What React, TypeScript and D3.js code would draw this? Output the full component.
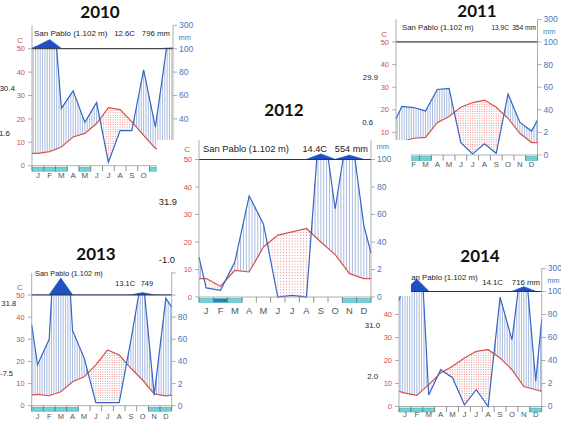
import * as d3 from "d3";

// Walter–Lieth style climate diagrams, San Pablo (1.102 m), 2010–2014.

const MONTHS = ["J", "F", "M", "A", "M", "J", "J", "A", "S", "O", "N", "D"];
// x positions in month units: left edge, the 12 month centres, right edge
const STEPS = [0, 0.5, 1.5, 2.5, 3.5, 4.5, 5.5, 6.5, 7.5, 8.5, 9.5, 10.5, 11.5, 12];
const TEMP_TICKS = [0, 10, 20, 30, 40, 50];
const PREC_TICKS = ["0", "2", "40", "60", "80", "100"];
const SITE = "San Pablo (1.102 m)";

// mean monthly temperature (°C) and rainfall (mm), Jan..Dec; edge values at the plot borders
const TEMP_2010 = [5.3, 6.0, 8.0, 12.3, 13.8, 18.0, 24.8, 24.0, 18.7, 13.0, 7.4, 6.4];
const TEMP_EDGE_2010 = [5.3, 6.0];
const PREC_2010 = [125, 176, 49, 64, 37, 54, 3, 30, 30, 82, 33, 104];
const PREC_EDGE_2010 = [104, 106];
const FROST_2010 = [1, 1, 1, 0, 1, 0, 0, 0, 0, 0, 1, 0];
const STATS_2010 = ["12.6C", "796 mm"];
const EXTREMES_2010 = ["30.4", "1.6"];

const TEMP_2011 = [5.9, 7.4, 7.8, 14.3, 17.0, 21.1, 23.2, 24.3, 21.1, 16.2, 9.6, 5.5];
const TEMP_EDGE_2011 = [5.5, 5.5];
const PREC_2011 = [43, 42, 39, 58, 59, 11, 1, 10, 1.5, 54, 29, 21];
const PREC_EDGE_2011 = [32, 31];
const FROST_2011 = [1, 1, 1, 0, 0, 0, 0, 0, 0, 0, 0, 1];
const STATS_2011 = ["13.9C", "354 mm"];
const EXTREMES_2011 = ["29.9", "0.6"];

const TEMP_2012 = [6.7, 3.9, 9.7, 9.1, 18.2, 22.5, 23.7, 24.9, 20.0, 15.4, 8.5, 6.7];
const TEMP_EDGE_2012 = [6.7, 6.7];
const PREC_2012 = [6.6, 4.9, 25.5, 73.5, 53, 0, 1.2, 0, 140, 64, 130, 52];
const PREC_EDGE_2012 = [29, 32];
const FROST_2012 = [1, 2, 1, 0, 0, 0, 0, 0, 0, 0, 1, 1];
const STATS_2012 = ["14.4C", "554 mm"];
const EXTREMES_2012 = ["31.9", "-1.0"];

const TEMP_2013 = [5.1, 4.5, 6.3, 10.8, 13.1, 18.4, 25.2, 22.9, 16.9, 11.6, 5.3, 4.4];
const TEMP_EDGE_2013 = [4.8, 4.8];
const PREC_2013 = [37, 60, 250, 68, 43, 2.7, 2.7, 2.7, 59, 120, 9.6, 97];
const PREC_EDGE_2013 = [73, 89];
const FROST_2013 = [1, 1, 1, 1, 0, 0, 0, 0, 0, 0, 1, 1];
const STATS_2013 = ["13.1C", "749"];
const EXTREMES_2013 = ["31.8", "-7.5"];

const TEMP_2014 = [5.8, 4.8, 9.5, 14.6, 17.5, 21.1, 24.0, 24.7, 21.1, 16.0, 8.7, 7.3];
const TEMP_EDGE_2014 = [6.6, 6.6];
const PREC_2014 = [110, 205, 10, 32, 25, 1.5, 14.6, 0, 95, 58, 140, 22];
const PREC_EDGE_2014 = [92, 76];
const FROST_2014 = [1, 1, 1, 0, 0, 0, 0, 0, 0, 0, 0, 1];
const STATS_2014 = ["14.1C", "716 mm"];
const EXTREMES_2014 = ["31.0", "2.0"];

type Series = {
  temp: number[];
  tempEdge: number[];
  prec: number[];
  precEdge: number[];
  frost: number[];
  stats: string[];
  extremes: string[];
};

const SERIES: Record<string, Series> = {
  "2010": { temp: TEMP_2010, tempEdge: TEMP_EDGE_2010, prec: PREC_2010, precEdge: PREC_EDGE_2010, frost: FROST_2010, stats: STATS_2010, extremes: EXTREMES_2010 },
  "2011": { temp: TEMP_2011, tempEdge: TEMP_EDGE_2011, prec: PREC_2011, precEdge: PREC_EDGE_2011, frost: FROST_2011, stats: STATS_2011, extremes: EXTREMES_2011 },
  "2012": { temp: TEMP_2012, tempEdge: TEMP_EDGE_2012, prec: PREC_2012, precEdge: PREC_EDGE_2012, frost: FROST_2012, stats: STATS_2012, extremes: EXTREMES_2012 },
  "2013": { temp: TEMP_2013, tempEdge: TEMP_EDGE_2013, prec: PREC_2013, precEdge: PREC_EDGE_2013, frost: FROST_2013, stats: STATS_2013, extremes: EXTREMES_2013 },
  "2014": { temp: TEMP_2014, tempEdge: TEMP_EDGE_2014, prec: PREC_2014, precEdge: PREC_EDGE_2014, frost: FROST_2014, stats: STATS_2014, extremes: EXTREMES_2014 },
};

type Layout = {
  xL: number;
  xR: number;
  y0: number;
  y50: number;
  crop: number[][];
  title: number[];
  san: number[];
  statY: number;
  tempEnd: number;
  mmEnd: number;
  statFs: number;
  ext: number[][];
  monthDy: number;
  headFs: number;
  hide: string[]; // labels lying under a neighbouring panel
};

// where each diagram sits in the collage
const LAYOUT: Record<string, Layout> = {
  "2010": { xL: 32, xR: 173, y0: 165.7, y50: 48.7, crop: [[0, 20, 200, 170]], title: [100, 18], san: [34, 36], statY: 36, tempEnd: 135, mmEnd: 170, statFs: 7.8, ext: [[15, 88], [10, 133]], monthDy: 12.6, headFs: 8, hide: ["r10", "m10", "m11"] },
  "2011": { xL: 396, xR: 537.5, y0: 155, y50: 42, crop: [[355, 8, 206, 172]], title: [477, 17], san: [402, 30], statY: 30, tempEnd: 509, mmEnd: 536, statFs: 6.6, ext: [[378, 77], [373, 122]], monthDy: 11.7, headFs: 7.8, hide: ["l0", "m0"] },
  "2012": { xL: 199, xR: 371, y0: 297, y50: 159.5, crop: [[157, 140, 238, 169], [395, 140, 16, 156]], title: [284, 116], san: [203, 152], statY: 152, tempEnd: 327, mmEnd: 368, statFs: 9.2, ext: [[177, 202], [175, 260]], monthDy: 17.3, headFs: 9.4, hide: ["r300"] },
  "2013": { xL: 31.7, xR: 171.7, y0: 405.7, y50: 295, crop: [[0, 266, 176, 156], [0, 305, 195, 117]], title: [96, 260], san: [35, 276], statY: 286, tempEnd: 135, mmEnd: 153, statFs: 7.4, ext: [[16, 303], [13, 373]], monthDy: 13.3, headFs: 7.4, hide: ["r50", "r300", "mm"] },
  "2014": { xL: 399, xR: 541.7, y0: 406.5, y50: 291.5, crop: [[360, 262, 201, 160]], title: [480, 262], san: [406, 280], statY: 285, tempEnd: 503, mmEnd: 540, statFs: 7.8, ext: [[380, 325], [378, 376]], monthDy: 10.3, headFs: 7.8, hide: ["C", "l50"] },
};

// drawing order: later panels sit on top
const ORDER = ["2010", "2011", "2014", "2012", "2013"];

const RED = "#d24b4b";
const BLUE = "#4a78bd";
const FONT = "'Liberation Sans', Arial, sans-serif";

function Panel({ year }: { year: string }) {
  const s = SERIES[year];
  const L = LAYOUT[year];
  const hidden = new Set(L.hide);
  const x = d3.scaleLinear().domain([0, 12]).range([L.xL, L.xR]);
  const y = d3.scaleLinear().domain([0, 50]).range([L.y0, L.y50]);
  const ppu = (L.y0 - L.y50) / 50;

  const tv = [s.tempEdge[0], ...s.temp, s.tempEdge[1]];
  const pv = [s.precEdge[0], ...s.prec, s.precEdge[1]];
  const low = pv.map((p) => p / 2);
  // above 100 mm the rain axis is compressed 1:20
  const high = pv.map((p) => 50 + Math.max(0, p - 100) / 20);

  const tAt = d3.scaleLinear().domain(STEPS).range(tv);
  const pAt = d3.scaleLinear().domain(STEPS).range(low);

  // humid months: vertical hatch; dry months: dotted fill
  const N = 60;
  const du = 12 / N;
  const stepU = (x(du) - x(0)) / ppu;
  const hatch: number[][] = [];
  const dots: number[][] = [];
  for (let i = 0; i < N; i++) {
    const u = (i + 0.5) * du;
    const t = tAt(u);
    const p = Math.min(pAt(u), 50);
    if (p > t) hatch.push([u, t, p]);
    else for (let v = stepU / 2; v < t; v += stepU) if (v > p) dots.push([u, v]);
  }

  const line = d3
    .line<number>()
    .x((_, i) => x(STEPS[i]))
    .y((d) => y(d));
  const area = d3
    .area<number>()
    .x((_, i) => x(STEPS[i]))
    .y0(y(50))
    .y1((d) => y(d));

  const y60 = y(60);
  const tickFs = 7.5;
  const rightFs = 8.5;
  const id = `p${year}`;

  return (
    <g>
      <defs>
        <clipPath id={`${id}-crop`}>
          {L.crop.map((r, i) => (
            <rect key={i} x={r[0]} y={r[1]} width={r[2]} height={r[3]} />
          ))}
        </clipPath>
        <clipPath id={`${id}-low`}>
          <rect x={L.xL - 1} y={y(50)} width={L.xR - L.xL + 2} height={L.y0 - y(50) + 3} />
        </clipPath>
        <clipPath id={`${id}-high`}>
          <rect x={L.xL - 1} y={y(63)} width={L.xR - L.xL + 2} height={y(50) - y(63)} />
        </clipPath>
      </defs>
      <g clipPath={`url(#${id}-crop)`}>
        {L.crop.map((r, i) => (
          <rect key={i} x={r[0]} y={r[1]} width={r[2]} height={r[3]} fill="#fff" />
        ))}

        {hatch.map(([u, t, p], i) => (
          <line key={i} x1={x(u)} x2={x(u)} y1={y(t)} y2={y(p)} stroke="#4d75bd" strokeWidth={0.7} strokeOpacity={0.7} />
        ))}
        {dots.map(([u, v], i) => (
          <circle key={i} cx={x(u)} cy={y(v)} r={0.55} fill="#e0605c" fillOpacity={0.8} />
        ))}

        <path d={line(tv) ?? ""} fill="none" stroke="#d6504e" strokeWidth={1.2} />

        <g clipPath={`url(#${id}-high)`}>
          <path d={area(high) ?? ""} fill="#1f4fc2" />
          <path d={line(high) ?? ""} fill="none" stroke="#2b5cc4" strokeWidth={1.1} />
        </g>
        <path d={line(low) ?? ""} fill="none" stroke="#3566c4" strokeWidth={1.2} clipPath={`url(#${id}-low)`} />

        <line x1={L.xL} x2={L.xR} y1={y(50)} y2={y(50)} stroke="#333" strokeWidth={1} />

        {/* axes */}
        <line x1={L.xL} x2={L.xL} y1={L.y0} y2={y60} stroke="#999" strokeWidth={0.8} />
        <line x1={L.xR} x2={L.xR} y1={L.y0} y2={y60} stroke="#999" strokeWidth={0.8} />
        <line x1={L.xL} x2={L.xR} y1={L.y0} y2={L.y0} stroke="#999" strokeWidth={0.8} />
        {TEMP_TICKS.map((t) => (
          <g key={t}>
            <line x1={L.xL - 4} x2={L.xL} y1={y(t)} y2={y(t)} stroke="#999" strokeWidth={0.8} />
            {!hidden.has(`l${t}`) && (
              <text x={L.xL - 7} y={y(t)} dy="0.35em" textAnchor="end" fontSize={tickFs} fill={RED}>
                {t}
              </text>
            )}
          </g>
        ))}
        {!hidden.has("C") && (
          <text x={L.xL - 9} y={y(53.6)} dy="0.35em" textAnchor="end" fontSize={tickFs + 0.5} fill={RED}>
            C
          </text>
        )}
        {TEMP_TICKS.map((t, i) => (
          <g key={t}>
            <line x1={L.xR} x2={L.xR + 4} y1={y(t)} y2={y(t)} stroke="#999" strokeWidth={0.8} />
            {!hidden.has(`r${t}`) && (
              <text x={L.xR + 6} y={y(t)} dy="0.35em" fontSize={rightFs} fill={BLUE}>
                {PREC_TICKS[i]}
              </text>
            )}
          </g>
        ))}
        <line x1={L.xR} x2={L.xR + 4} y1={y60} y2={y60} stroke="#999" strokeWidth={0.8} />
        {!hidden.has("r300") && (
          <text x={L.xR + 6} y={y60} dy="0.35em" fontSize={rightFs} fill={BLUE}>
            300
          </text>
        )}
        {!hidden.has("mm") && (
          <text x={L.xR + 5.5} y={y(54.8)} dy="0.35em" fontSize={7.4} fill={BLUE}>
            mm
          </text>
        )}

        {/* frost months and month ticks */}
        {s.frost.map((f, i) =>
          f ? (
            <rect
              key={i}
              x={x(i)}
              y={L.y0 + 1.5}
              width={x(i + 1) - x(i)}
              height={4}
              fill={f === 2 ? "#2b80b4" : "#6fd3d6"}
              stroke="#3fa3b5"
              strokeWidth={0.5}
            />
          ) : null
        )}
        {d3.range(13).map((i) => (
          <line key={i} x1={x(i)} x2={x(i)} y1={L.y0} y2={L.y0 + 5.5} stroke="#777" strokeWidth={0.8} />
        ))}

        {/* header */}
        <text x={L.san[0]} y={L.san[1]} fontSize={L.headFs} fill="#222">
          {SITE}
        </text>
        <text x={L.tempEnd} y={L.statY} textAnchor="end" fontSize={L.statFs} fill="#222">
          {s.stats[0]}
        </text>
        <text x={L.mmEnd} y={L.statY} textAnchor="end" fontSize={L.statFs} fill="#222">
          {s.stats[1]}
        </text>
        {s.extremes.map((e, i) => (
          <text key={i} x={L.ext[i][0]} y={L.ext[i][1]} dy="0.35em" textAnchor="end" fontSize={L.headFs} fill="#222">
            {e}
          </text>
        ))}
      </g>
      {MONTHS.map((m, i) =>
        hidden.has(`m${i}`) ? null : (
          <text key={i} x={x(i + 0.5)} y={L.y0 + L.monthDy} textAnchor="middle" fontSize={L.headFs} fill="#555">
            {m}
          </text>
        )
      )}
    </g>
  );
}

export default function App() {
  return (
    <svg
      width={561}
      height={422}
      viewBox="0 0 561 422"
      style={{ position: "absolute", left: 0, top: 0, background: "#fff" }}
      fontFamily={FONT}
    >
      <rect width={561} height={422} fill="#fff" />
      {ORDER.map((yr) => (
        <Panel key={yr} year={yr} />
      ))}
      {ORDER.map((yr) => (
        <text
          key={yr}
          x={LAYOUT[yr].title[0]}
          y={LAYOUT[yr].title[1]}
          textAnchor="middle"
          fontFamily="Lato, 'Open Sans', sans-serif"
          fontWeight="bold"
          fontSize={17}
          fill="#111"
        >
          {yr}
        </text>
      ))}
    </svg>
  );
}
